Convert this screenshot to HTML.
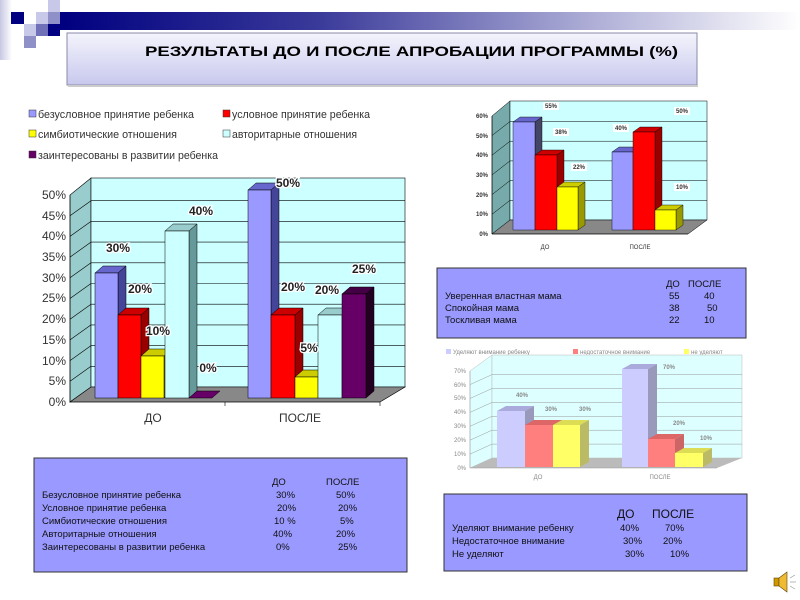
<!DOCTYPE html>
<html><head><meta charset="utf-8"><style>
html,body{margin:0;padding:0;background:#fff}
svg{display:block}
text{font-family:"Liberation Sans",sans-serif}
</style></head><body>
<svg width="800" height="600" viewBox="0 0 800 600" xmlns="http://www.w3.org/2000/svg">
<defs>
<linearGradient id="band" x1="0" x2="1" y1="0" y2="0">
<stop offset="0" stop-color="#000080"/><stop offset="0.35" stop-color="#3a3a9a"/><stop offset="0.7" stop-color="#a8a8d4"/><stop offset="1" stop-color="#fff"/></linearGradient>
<linearGradient id="tb" x1="0" x2="0" y1="0" y2="1">
<stop offset="0" stop-color="#f4f4fc"/><stop offset="1" stop-color="#c8c8ee"/></linearGradient>
<linearGradient id="ls" x1="0" x2="1"><stop offset="0" stop-color="#c8c8e4"/><stop offset="1" stop-color="#fff"/></linearGradient>
</defs>
<rect x="0" y="0" width="12" height="60" fill="url(#ls)"/>
<rect x="60" y="12" width="740" height="18" fill="url(#band)"/>
<rect x="11" y="12" width="13" height="12" fill="#000080"/>
<rect x="36" y="12" width="12" height="12" fill="#c8c8e8"/>
<rect x="48" y="0" width="12" height="12" fill="#c8c8e8"/>
<rect x="48" y="12" width="12" height="12" fill="#9090c8"/>
<rect x="24" y="24" width="12" height="12" fill="#c8c8e8"/>
<rect x="36" y="24" width="12" height="12" fill="#7070b8"/>
<rect x="48" y="24" width="12" height="12" fill="#000080"/>
<rect x="24" y="36" width="12" height="12" fill="#9090c8"/>
<rect x="67" y="33" width="630" height="52" fill="url(#tb)" stroke="#8a8aa8" stroke-width="1"/>
<rect x="68" y="85" width="630" height="2" fill="#ccc"/>
<text x="145" y="56" font-size="14" font-weight="bold" fill="#000" textLength="533" lengthAdjust="spacingAndGlyphs">РЕЗУЛЬТАТЫ ДО И ПОСЛЕ АПРОБАЦИИ ПРОГРАММЫ (%)</text>

<!-- main chart legend -->
<g font-size="11" fill="#333">
<rect x="29" y="110" width="7" height="7" fill="#9999ff" stroke="#333" stroke-width=".5"/><text x="38" y="118" textLength="156" lengthAdjust="spacingAndGlyphs">безусловное принятие ребенка</text>
<rect x="223" y="110" width="7" height="7" fill="#f00" stroke="#333" stroke-width=".5"/><text x="232" y="118" textLength="138" lengthAdjust="spacingAndGlyphs">условное принятие ребенка</text>
<rect x="29" y="130" width="7" height="7" fill="#ff0" stroke="#333" stroke-width=".5"/><text x="38" y="138" textLength="139" lengthAdjust="spacingAndGlyphs">симбиотические отношения</text>
<rect x="223" y="130" width="7" height="7" fill="#cff" stroke="#333" stroke-width=".5"/><text x="232" y="138" textLength="125" lengthAdjust="spacingAndGlyphs">авторитарные отношения</text>
<rect x="29" y="151" width="7" height="7" fill="#660066" stroke="#333" stroke-width=".5"/><text x="38" y="159" textLength="180" lengthAdjust="spacingAndGlyphs">заинтересованы в развитии ребенка</text>
</g>
<!-- main chart walls -->
<polygon points="70,402 91,387 91,178 70,195" fill="#9cc" stroke="#000" stroke-width=".6"/>
<rect x="91" y="178" width="314" height="209" fill="#ccffff" stroke="#000" stroke-width=".6"/>
<polygon points="70,402 91,387 405,387 380,402" fill="#888" stroke="#000" stroke-width=".6"/>
<g stroke="#000" stroke-width=".6">
<line x1="70" y1="381.3" x2="91" y2="366.3"/><line x1="91" y1="366.3" x2="405" y2="366.3"/>
<line x1="70" y1="360.6" x2="91" y2="345.6"/><line x1="91" y1="345.6" x2="405" y2="345.6"/>
<line x1="70" y1="339.9" x2="91" y2="324.9"/><line x1="91" y1="324.9" x2="405" y2="324.9"/>
<line x1="70" y1="319.2" x2="91" y2="304.2"/><line x1="91" y1="304.2" x2="405" y2="304.2"/>
<line x1="70" y1="298.5" x2="91" y2="283.5"/><line x1="91" y1="283.5" x2="405" y2="283.5"/>
<line x1="70" y1="277.8" x2="91" y2="262.8"/><line x1="91" y1="262.8" x2="405" y2="262.8"/>
<line x1="70" y1="257.1" x2="91" y2="242.1"/><line x1="91" y1="242.1" x2="405" y2="242.1"/>
<line x1="70" y1="236.4" x2="91" y2="221.4"/><line x1="91" y1="221.4" x2="405" y2="221.4"/>
<line x1="70" y1="215.7" x2="91" y2="200.7"/><line x1="91" y1="200.7" x2="405" y2="200.7"/>
<line x1="70" y1="195" x2="70" y2="402"/><line x1="70" y1="402" x2="380" y2="402"/>
<line x1="225" y1="402" x2="225" y2="406"/><line x1="380" y1="402" x2="380" y2="406"/>
</g>
<g font-size="12" fill="#333" text-anchor="end">
<text x="66" y="406">0%</text><text x="66" y="385">5%</text><text x="66" y="365">10%</text><text x="66" y="344">15%</text><text x="66" y="323">20%</text><text x="66" y="302">25%</text><text x="66" y="282">30%</text><text x="66" y="261">35%</text><text x="66" y="240">40%</text><text x="66" y="220">45%</text><text x="66" y="199">50%</text>
</g>
<g font-size="12" fill="#333" text-anchor="middle"><text x="153" y="422">ДО</text><text x="300" y="422">ПОСЛЕ</text></g>
<g stroke="#000" stroke-width=".5">
<polygon points="95,273 103,266 126,266 118,273" fill="#6666cc"/><polygon points="118,273 126,266 126,391 118,398" fill="#444499"/><rect x="95" y="273" width="23" height="125" fill="#9999ff"/>
<polygon points="118,315 126,308 149,308 141,315" fill="#c00"/><polygon points="141,315 149,308 149,391 141,398" fill="#900"/><rect x="118" y="315" width="23" height="83" fill="#f00"/>
<polygon points="141,356 149,349 172,349 164,356" fill="#cc0"/><polygon points="164,356 172,349 172,391 164,398" fill="#990"/><rect x="141" y="356" width="23" height="42" fill="#ff0"/>
<polygon points="165,231 173,224 197,224 189,231" fill="#9cc"/><polygon points="189,231 197,224 197,391 189,398" fill="#699"/><rect x="165" y="231" width="24" height="167" fill="#ccffff"/>
<polygon points="189,398 197,391 220,391 212,398" fill="#660066"/>
<polygon points="248,190 256,183 279,183 271,190" fill="#6666cc"/><polygon points="271,190 279,183 279,391 271,398" fill="#444499"/><rect x="248" y="190" width="23" height="208" fill="#9999ff"/>
<polygon points="271,315 279,308 303,308 295,315" fill="#c00"/><polygon points="295,315 303,308 303,391 295,398" fill="#900"/><rect x="271" y="315" width="24" height="83" fill="#f00"/>
<polygon points="295,377 303,370 326,370 318,377" fill="#cc0"/><polygon points="318,377 326,370 326,391 318,398" fill="#990"/><rect x="295" y="377" width="23" height="21" fill="#ff0"/>
<polygon points="318,315 326,308 350,308 342,315" fill="#9cc"/><polygon points="342,315 350,308 350,391 342,398" fill="#699"/><rect x="318" y="315" width="24" height="83" fill="#ccffff"/>
<polygon points="342,294 350,287 374,287 366,294" fill="#440044"/><polygon points="366,294 374,287 374,391 366,398" fill="#220022"/><rect x="342" y="294" width="24" height="104" fill="#660066"/>
</g>
<g font-size="12" font-weight="bold" fill="#222" text-anchor="middle" stroke="#fff" stroke-width="2.5" paint-order="stroke">
<text x="118" y="252">30%</text><text x="140" y="293">20%</text><text x="158" y="335">10%</text><text x="201" y="215">40%</text><text x="208" y="372">0%</text>
<text x="288" y="187">50%</text><text x="293" y="291">20%</text><text x="309" y="352">5%</text><text x="327" y="294">20%</text><text x="364" y="273">25%</text>
</g>

<!-- table 2 -->
<rect x="34" y="458" width="373" height="114" fill="#9999ff" stroke="#333" stroke-width="1"/>
<g font-size="9.5" fill="#111">
<text x="272" y="485">ДО</text><text x="326" y="485">ПОСЛЕ</text>
<text x="42" y="498">Безусловное принятие  ребенка</text><text x="276" y="498">30%</text><text x="336" y="498">50%</text>
<text x="42" y="511">Условное принятие  ребенка</text><text x="277" y="511">20%</text><text x="338" y="511">20%</text>
<text x="42" y="524">Симбиотические  отношения</text><text x="274" y="524">10 %</text><text x="340" y="524">5%</text>
<text x="42" y="537">Авторитарные отношения</text><text x="273" y="537">40%</text><text x="336" y="537">20%</text>
<text x="42" y="550">Заинтересованы в развитии  ребенка</text><text x="276" y="550">0%</text><text x="338" y="550">25%</text>
</g>

<!-- top-right chart -->
<polygon points="492,234 510,220 510,101 492,116" fill="#7aa" stroke="#000" stroke-width=".5"/>
<rect x="510" y="101" width="197" height="119" fill="#ccffff" stroke="#000" stroke-width=".5"/>
<polygon points="492,234 510,220 707,220 688,234" fill="#888" stroke="#000" stroke-width=".5"/>
<g stroke="#000" stroke-width=".5">
<line x1="492" y1="214.3" x2="510" y2="200.3"/><line x1="510" y1="200.3" x2="707" y2="200.3"/>
<line x1="492" y1="194.6" x2="510" y2="180.6"/><line x1="510" y1="180.6" x2="707" y2="180.6"/>
<line x1="492" y1="174.9" x2="510" y2="160.9"/><line x1="510" y1="160.9" x2="707" y2="160.9"/>
<line x1="492" y1="155.2" x2="510" y2="141.2"/><line x1="510" y1="141.2" x2="707" y2="141.2"/>
<line x1="492" y1="135.5" x2="510" y2="121.5"/><line x1="510" y1="121.5" x2="707" y2="121.5"/>
<line x1="492" y1="116" x2="492" y2="234"/><line x1="492" y1="234" x2="688" y2="234"/>
</g>
<g font-size="6" font-weight="bold" fill="#333" text-anchor="end">
<text x="488" y="236">0%</text><text x="488" y="216">10%</text><text x="488" y="197">20%</text><text x="488" y="177">30%</text><text x="488" y="157">40%</text><text x="488" y="138">50%</text><text x="488" y="118">60%</text>
</g>
<g font-size="6" fill="#333" text-anchor="middle"><text x="545" y="249">ДО</text><text x="640" y="249">ПОСЛЕ</text></g>
<g stroke="#000" stroke-width=".4">
<polygon points="513,122 520,117 542,117 535,122" fill="#6666cc"/><polygon points="535,122 542,117 542,225 535,230" fill="#446"/><rect x="513" y="122" width="22" height="108" fill="#9999ff"/>
<polygon points="535,155 542,150 564,150 557,155" fill="#c00"/><polygon points="557,155 564,150 564,225 557,230" fill="#900"/><rect x="535" y="155" width="22" height="75" fill="#f00"/>
<polygon points="557,187 564,182 585,182 578,187" fill="#cc0"/><polygon points="578,187 585,182 585,225 578,230" fill="#990"/><rect x="557" y="187" width="21" height="43" fill="#ff0"/>
<polygon points="612,152 619,147 640,147 633,152" fill="#6666cc"/><polygon points="633,152 640,147 640,225 633,230" fill="#446"/><rect x="612" y="152" width="21" height="78" fill="#9999ff"/>
<polygon points="633,132 640,127 662,127 655,132" fill="#c00"/><polygon points="655,132 662,127 662,225 655,230" fill="#900"/><rect x="633" y="132" width="22" height="98" fill="#f00"/>
<polygon points="655,210 662,205 683,205 676,210" fill="#cc0"/><polygon points="676,210 683,205 683,225 676,230" fill="#990"/><rect x="655" y="210" width="21" height="20" fill="#ff0"/>
</g>
<g font-size="6" font-weight="bold" fill="#333" text-anchor="middle">
<rect x="543" y="102" width="16" height="8" fill="#fff"/><text x="551" y="108">55%</text>
<rect x="553" y="128" width="16" height="8" fill="#fff"/><text x="561" y="134">38%</text>
<rect x="571" y="163" width="16" height="8" fill="#fff"/><text x="579" y="169">22%</text>
<rect x="613" y="124" width="16" height="8" fill="#fff"/><text x="621" y="130">40%</text>
<rect x="674" y="107" width="16" height="8" fill="#fff"/><text x="682" y="113">50%</text>
<rect x="674" y="183" width="16" height="8" fill="#fff"/><text x="682" y="189">10%</text>
</g>

<!-- table 1 -->
<rect x="437" y="268" width="309" height="70" fill="#9999ff" stroke="#333" stroke-width="1"/>
<g font-size="9.5" fill="#111">
<text x="666" y="287">ДО</text><text x="688" y="287">ПОСЛЕ</text>
<text x="445" y="299">Уверенная властная мама</text><text x="669" y="299">55</text><text x="704" y="299">40</text>
<text x="445" y="311">Спокойная мама</text><text x="669" y="311">38</text><text x="707" y="311">50</text>
<text x="445" y="323">Тоскливая мама</text><text x="669" y="323">22</text><text x="704" y="323">10</text>
</g>

<!-- bottom-right chart -->
<g font-size="6" fill="#888">
<rect x="446" y="349" width="5" height="5" fill="#ccccff"/><text x="453" y="354">Уделяют  внимание ребенку</text>
<rect x="573" y="349" width="5" height="5" fill="#ff7f7f"/><text x="580" y="354">недостаточное внимание</text>
<rect x="684" y="349" width="5" height="5" fill="#ffff66"/><text x="691" y="354">не уделяют</text>
</g>
<polygon points="470,468 492,458 492,355 470,371" fill="#ddffff" stroke="#bbb" stroke-width=".5"/>
<rect x="492" y="355" width="250" height="103" fill="#ddffff" stroke="#bbb" stroke-width=".5"/>
<polygon points="470,468 492,458 742,458 717,468" fill="#bbb"/>
<g stroke="#999" stroke-width=".5">
<line x1="470" y1="454.1" x2="492" y2="444.1"/><line x1="492" y1="444.1" x2="742" y2="444.1"/>
<line x1="470" y1="440.2" x2="492" y2="430.2"/><line x1="492" y1="430.2" x2="742" y2="430.2"/>
<line x1="470" y1="426.3" x2="492" y2="416.3"/><line x1="492" y1="416.3" x2="742" y2="416.3"/>
<line x1="470" y1="412.4" x2="492" y2="402.4"/><line x1="492" y1="402.4" x2="742" y2="402.4"/>
<line x1="470" y1="398.5" x2="492" y2="388.5"/><line x1="492" y1="388.5" x2="742" y2="388.5"/>
<line x1="470" y1="384.6" x2="492" y2="374.6"/><line x1="492" y1="374.6" x2="742" y2="374.6"/>
<line x1="470" y1="371" x2="470" y2="468"/><line x1="470" y1="468" x2="717" y2="468"/>
</g>
<g font-size="6" fill="#888" text-anchor="end">
<text x="466" y="470">0%</text><text x="466" y="456">10%</text><text x="466" y="442">20%</text><text x="466" y="428">30%</text><text x="466" y="414">40%</text><text x="466" y="400">50%</text><text x="466" y="387">60%</text><text x="466" y="373">70%</text>
</g>
<g font-size="6" fill="#888" text-anchor="middle"><text x="538" y="479">ДО</text><text x="660" y="479">ПОСЛЕ</text></g>
<g>
<polygon points="497,411 506,406 534,406 525,411" fill="#aaaadd"/><polygon points="525,411 534,406 534,462 525,467" fill="#9999bb"/><rect x="497" y="411" width="28" height="56" fill="#ccccff"/>
<polygon points="525,425 534,420 562,420 553,425" fill="#d66"/><polygon points="553,425 562,420 562,462 553,467" fill="#c66"/><rect x="525" y="425" width="28" height="42" fill="#ff7f7f"/>
<polygon points="553,425 562,420 589,420 580,425" fill="#dd5"/><polygon points="580,425 589,420 589,462 580,467" fill="#bb6"/><rect x="553" y="425" width="27" height="42" fill="#ffff66"/>
<polygon points="622,369 631,364 657,364 648,369" fill="#aaaadd"/><polygon points="648,369 657,364 657,462 648,467" fill="#9999bb"/><rect x="622" y="369" width="26" height="98" fill="#ccccff"/>
<polygon points="648,439 657,434 684,434 675,439" fill="#d66"/><polygon points="675,439 684,434 684,462 675,467" fill="#c66"/><rect x="648" y="439" width="27" height="28" fill="#ff7f7f"/>
<polygon points="675,453 684,448 712,448 703,453" fill="#dd5"/><polygon points="703,453 712,448 712,462 703,467" fill="#bb6"/><rect x="675" y="453" width="28" height="14" fill="#ffff66"/>
</g>
<g font-size="6" font-weight="bold" fill="#888" text-anchor="middle">
<text x="522" y="397">40%</text><text x="551" y="411">30%</text><text x="585" y="411">30%</text><text x="669" y="369">70%</text><text x="679" y="425">20%</text><text x="706" y="440">10%</text>
</g>

<!-- table 3 -->
<rect x="444" y="494" width="303" height="77" fill="#9999ff" stroke="#333" stroke-width="1"/>
<g fill="#111">
<text x="617" y="518" font-size="12">ДО</text><text x="652" y="518" font-size="12">ПОСЛЕ</text>
<text x="452" y="531" font-size="9.5">Уделяют  внимание  ребенку</text><text x="620" y="531" font-size="9.5">40%</text><text x="665" y="531" font-size="9.5">70%</text>
<text x="452" y="544" font-size="9.5">Недостаточное внимание</text><text x="623" y="544" font-size="9.5">30%</text><text x="663" y="544" font-size="9.5">20%</text>
<text x="452" y="557" font-size="9.5">Не уделяют</text><text x="625" y="557" font-size="9.5">30%</text><text x="670" y="557" font-size="9.5">10%</text>
</g>

<!-- speaker icon -->
<g>
<rect x="774" y="578" width="5" height="8" fill="#c90" stroke="#640" stroke-width=".6"/>
<polygon points="779,578 787,572 787,592 779,586" fill="#eb3" stroke="#640" stroke-width=".6"/>
<g stroke="#999" stroke-width=".7"><line x1="790" y1="578" x2="795" y2="575"/><line x1="790" y1="582" x2="796" y2="582"/><line x1="790" y1="586" x2="795" y2="589"/></g>
</g>
</svg>
</body></html>
